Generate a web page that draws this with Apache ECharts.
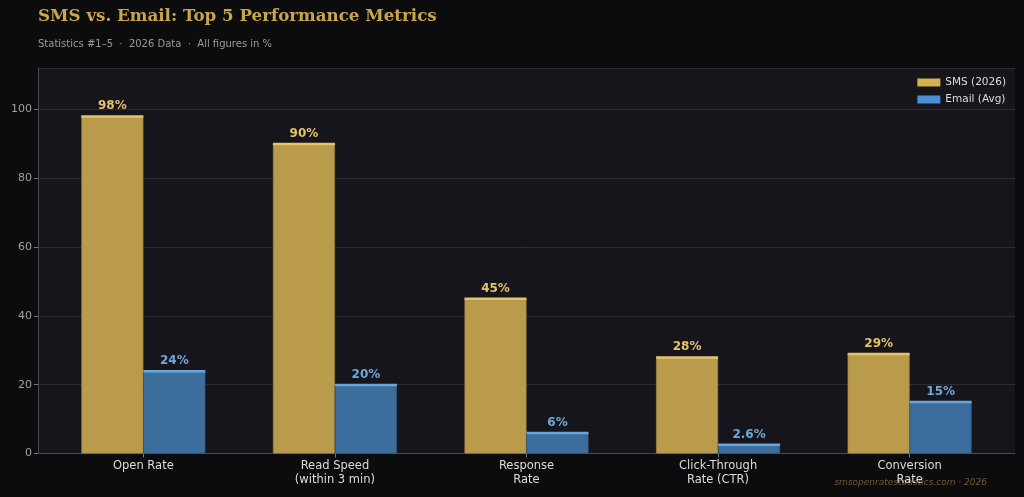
<!DOCTYPE html>
<html lang="en">
<head>
    <meta charset="UTF-8">
    <title>SMS vs. Email</title>
    <script src="https://cdn.jsdelivr.net/npm/echarts@6/dist/echarts.min.js"></script>
    <style>
        html, body { margin: 0; padding: 0; background: #0c0c0e; }
        #main { width: 1024px; height: 497px; }
    </style>
</head>
<body>
<div id="main"></div>
<script>
// data
var categories = ['Open Rate', 'Read Speed\n(within 3 min)', 'Response\nRate', 'Click-Through\nRate (CTR)', 'Conversion\nRate'];
var smsValues = [98, 90, 45, 28, 29];
var emailValues = [24, 20, 6, 2.6, 15];

var SMS_COLOR = '#b99b4b', SMS_CAP = '#e2c46e', SMS_TEXT = '#e3c36b';
var MAIL_COLOR = '#3c6e9d', MAIL_CAP = '#6aa6d6', MAIL_TEXT = '#6fa9dc';
var BAR_W = 62;

function pairs(arr) {
  return arr.map(function (v, i) { return [i, v]; });
}

// lighter top edge on each bar
function capSeries(name, arr, color, side) {
  return {
    name: name + ' cap',
    type: 'custom',
    silent: true,
    z: 5,
    data: pairs(arr),
    renderItem: function (params, api) {
      var p = api.coord([api.value(0), api.value(1)]);
      var x0 = side < 0 ? p[0] - BAR_W : p[0];
      return {
        type: 'rect',
        shape: { x: x0, y: p[1] - 1, width: BAR_W, height: 2.5 },
        style: { fill: color }
      };
    }
  };
}

var chart = echarts.init(document.getElementById('main'));
var option = {
  backgroundColor: '#0c0c0e',
  animation: false,
  textStyle: { fontFamily: 'DejaVu Sans' },
  title: [{
    text: 'SMS vs. Email: Top 5 Performance Metrics',
    left: 38, top: 8, padding: 0,
    textStyle: { fontFamily: 'DejaVu Serif', fontWeight: 'bold', fontSize: 16.7, color: '#c9a64c' }
  }, {
    text: 'Statistics #1\u20135  \u00b7  2026 Data  \u00b7  All figures in %',
    left: 38, top: 39, padding: 0,
    textStyle: { fontSize: 10, color: '#9a9a9a', fontWeight: 'normal' }
  }],
  legend: {
    right: 18, top: 77, orient: 'vertical', padding: 0,
    icon: 'rect',
    itemWidth: 23, itemHeight: 8, itemGap: 6,
    textStyle: { color: '#dddddd', fontSize: 10.5 },
    data: [
      { name: 'SMS (2026)', itemStyle: { color: '#d4b24f', borderWidth: 0 } },
      { name: 'Email (Avg)', itemStyle: { color: '#4a90d6', borderWidth: 0 } }
    ]
  },
  grid: {
    left: 38, right: 9, top: 68, bottom: 43.5,
    show: true, backgroundColor: '#16151b', borderWidth: 0
  },
  xAxis: {
    type: 'value',
    min: -0.55, max: 4.55,
    splitLine: { show: false },
    axisLine: { show: true, onZero: false, lineStyle: { color: '#4a4a50' } },
    axisTick: { show: true, customValues: [0, 1, 2, 3, 4], length: 4, lineStyle: { color: '#777' } },
    axisLabel: {
      customValues: [0, 1, 2, 3, 4],
      color: '#dddddd', fontSize: 11.5, lineHeight: 14, margin: 6,
      formatter: function (v) { return categories[Math.round(v)]; }
    }
  },
  yAxis: {
    type: 'value',
    min: 0, max: 112, interval: 20,
    axisLine: { show: true, onZero: false, lineStyle: { color: '#4a4a50' } },
    axisTick: { show: true, length: 4, lineStyle: { color: '#777' } },
    axisLabel: { color: '#a0a0a0', fontSize: 11, margin: 6, showMaxLabel: false },
    splitLine: { lineStyle: { color: '#2c2c33', width: 1 } }
  },
  series: [
    {
      name: 'SMS (2026)',
      type: 'bar',
      data: pairs(smsValues),
      barWidth: BAR_W,
      barGap: '0%',
      itemStyle: { color: SMS_COLOR, borderColor: '#9f843d', borderWidth: 0.6 },
      label: {
        show: true, position: 'top', distance: 4,
        color: SMS_TEXT, fontWeight: 'bold', fontSize: 12,
        formatter: function (p) { return p.value[1] + '%'; }
      }
    },
    {
      name: 'Email (Avg)',
      type: 'bar',
      data: pairs(emailValues),
      barWidth: BAR_W,
      barGap: '0%',
      itemStyle: { color: MAIL_COLOR, borderColor: '#2f5a82', borderWidth: 0.6 },
      label: {
        show: true, position: 'top', distance: 4,
        color: MAIL_TEXT, fontWeight: 'bold', fontSize: 12,
        formatter: function (p) { return p.value[1] + '%'; }
      }
    },
    capSeries('SMS', smsValues, SMS_CAP, -1),
    capSeries('Email', emailValues, MAIL_CAP, 1)
  ],
  graphic: [{
    type: 'text',
    right: 37, top: 478,
    style: {
      text: 'smsopenratestatistics.com \u00b7 2026',
      fill: '#6d5d34', fontSize: 9, fontStyle: 'italic', fontFamily: 'DejaVu Sans'
    }
  }]
};
chart.setOption(option);
</script>
</body>
</html>
